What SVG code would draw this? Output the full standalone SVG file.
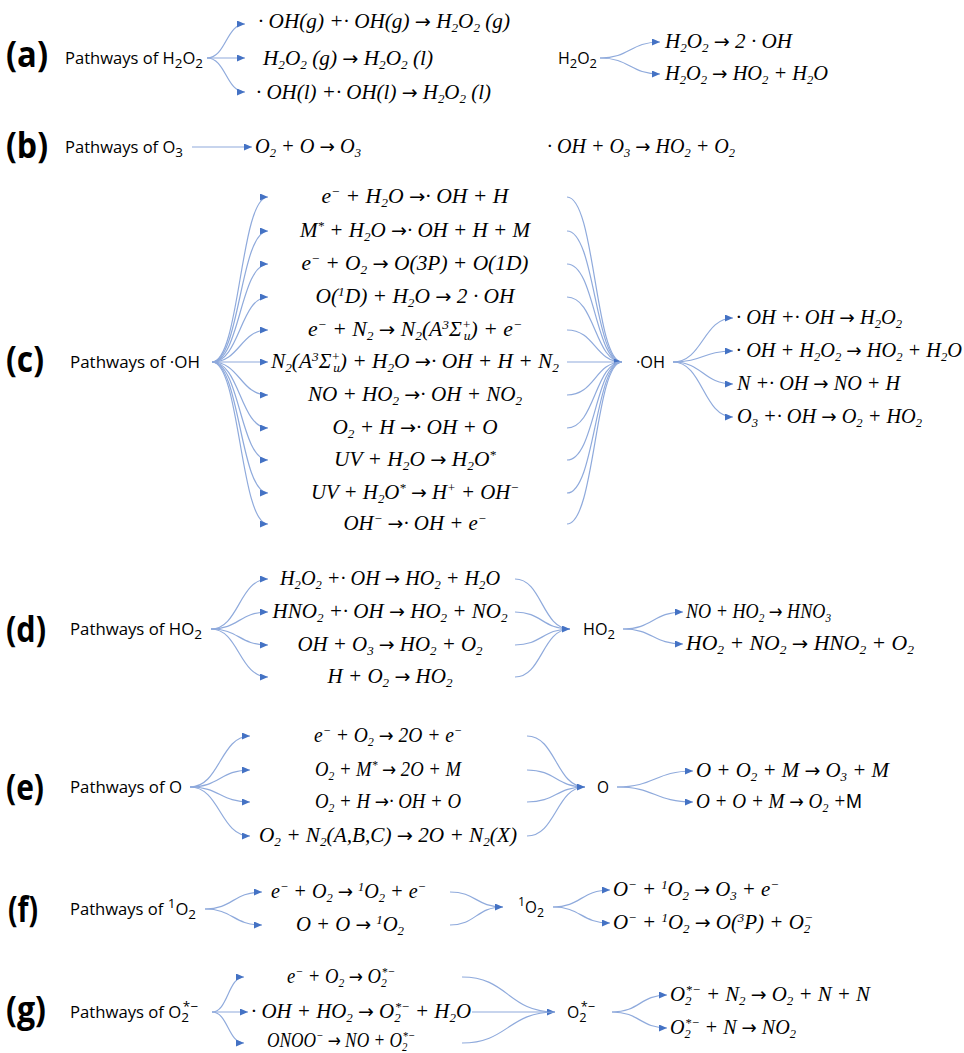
<svg xmlns="http://www.w3.org/2000/svg" width="964" height="1053" viewBox="0 0 964 1053">
<style>
.tag{font-family:"Open Sans","Liberation Sans",Arial,sans-serif;font-weight:bold;font-size:36px;fill:#000}
.lab{font-family:"Open Sans","Liberation Sans",Arial,sans-serif;font-size:16px;fill:#000}
.eq{font-family:"Liberation Serif","DejaVu Serif",serif;font-style:italic;font-size:21px;fill:#000}
.eqc{font-family:"Liberation Serif","DejaVu Serif",serif;font-style:italic;font-size:21px;fill:#000}
.s{font-size:13px;baseline-shift:-4px}
.p{font-size:13px;baseline-shift:7px}
.r{font-family:"DejaVu Sans",sans-serif;font-style:normal;font-size:19px}
.up{font-style:normal;font-family:"Liberation Sans",Arial,sans-serif}
.ln{fill:none;stroke:#8faadc;stroke-width:1.2}
.ar{marker-end:url(#ah)}
</style>
<defs>
<marker id="ah" viewBox="0 0 8 7" refX="8" refY="3.5" markerWidth="8" markerHeight="7" markerUnits="userSpaceOnUse" orient="auto"><path d="M0,0 L8,3.5 L0,7 z" fill="#4472c4"/></marker>
</defs>

<g id="connectors">
<path class="ln ar" d="M207,58 C226,58 226,24 245,24"/>
<path class="ln ar" d="M207,58 L245,58"/>
<path class="ln ar" d="M207,58 C226,58 226,92 245,92"/>
<path class="ln ar" d="M600,58 C630,58 630,42 660,42"/>
<path class="ln ar" d="M600,58 C630,58 630,74 660,74"/>
<path class="ln ar" d="M192,147 L252,147"/>
<path class="ln ar" d="M212,362 C240,362 240,197 268,197"/>
<path class="ln ar" d="M212,362 C240,362 240,231 268,231"/>
<path class="ln ar" d="M212,362 C240,362 240,264 268,264"/>
<path class="ln ar" d="M212,362 C240,362 240,297 268,297"/>
<path class="ln ar" d="M212,362 C240,362 240,330 268,330"/>
<path class="ln ar" d="M212,362 L268,362"/>
<path class="ln ar" d="M212,362 C240,362 240,395 268,395"/>
<path class="ln ar" d="M212,362 C240,362 240,428 268,428"/>
<path class="ln ar" d="M212,362 C240,362 240,460 268,460"/>
<path class="ln ar" d="M212,362 C240,362 240,493 268,493"/>
<path class="ln ar" d="M212,362 C240,362 240,524 268,524"/>
<path class="ln" d="M567,197 C595,197 595,362 622,362"/>
<path class="ln" d="M567,231 C595,231 595,362 622,362"/>
<path class="ln" d="M567,264 C595,264 595,362 622,362"/>
<path class="ln" d="M567,297 C595,297 595,362 622,362"/>
<path class="ln" d="M567,330 C595,330 595,362 622,362"/>
<path class="ln ar" d="M567,362 L622,362"/>
<path class="ln" d="M567,395 C595,395 595,362 622,362"/>
<path class="ln" d="M567,428 C595,428 595,362 622,362"/>
<path class="ln" d="M567,460 C595,460 595,362 622,362"/>
<path class="ln" d="M567,493 C595,493 595,362 622,362"/>
<path class="ln" d="M567,524 C595,524 595,362 622,362"/>
<path class="ln ar" d="M673,362 C703,362 703,318 733,318"/>
<path class="ln ar" d="M673,362 C703,362 703,351 733,351"/>
<path class="ln ar" d="M673,362 C703,362 703,384 733,384"/>
<path class="ln ar" d="M673,362 C703,362 703,417 733,417"/>
<path class="ln ar" d="M211,629 C239,629 239,579 268,579"/>
<path class="ln ar" d="M211,629 C239,629 239,612 268,612"/>
<path class="ln ar" d="M211,629 C239,629 239,645 268,645"/>
<path class="ln ar" d="M211,629 C239,629 239,677 268,677"/>
<path class="ln" d="M515,579 C542,579 542,629 570,629"/>
<path class="ln" d="M515,612 C542,612 542,629 570,629"/>
<path class="ln" d="M515,645 C542,645 542,629 570,629"/>
<path class="ln ar" d="M515,677 C542,677 542,629 570,629"/>
<path class="ln ar" d="M623,629 C653,629 653,612 683,612"/>
<path class="ln ar" d="M623,629 C653,629 653,644 683,644"/>
<path class="ln ar" d="M190,787 C220,787 220,736 250,736"/>
<path class="ln ar" d="M190,787 C220,787 220,770 250,770"/>
<path class="ln ar" d="M190,787 C220,787 220,802 250,802"/>
<path class="ln ar" d="M190,787 C220,787 220,836 250,836"/>
<path class="ln" d="M527,736 C556,736 556,787 585,787"/>
<path class="ln" d="M527,770 C556,770 556,787 585,787"/>
<path class="ln" d="M527,802 C556,802 556,787 585,787"/>
<path class="ln ar" d="M527,836 C556,836 556,787 585,787"/>
<path class="ln ar" d="M617,787 C655,787 655,771 693,771"/>
<path class="ln ar" d="M617,787 C655,787 655,802 693,802"/>
<path class="ln ar" d="M205,909 C233,909 233,892 262,892"/>
<path class="ln ar" d="M205,909 C233,909 233,925 262,925"/>
<path class="ln" d="M450,892 C476,892 476,907 503,907"/>
<path class="ln ar" d="M450,925 C476,925 476,907 503,907"/>
<path class="ln ar" d="M553,907 C581,907 581,890 610,890"/>
<path class="ln ar" d="M553,907 C581,907 581,923 610,923"/>
<path class="ln ar" d="M212,1012 C228,1012 228,977 244,977"/>
<path class="ln ar" d="M212,1012 L248,1012"/>
<path class="ln ar" d="M212,1012 C228,1012 228,1043 244,1043"/>
<path class="ln" d="M462,977 C508,977 508,1012 555,1012"/>
<path class="ln ar" d="M472,1012 L555,1012"/>
<path class="ln" d="M462,1043 C508,1043 508,1012 555,1012"/>
<path class="ln ar" d="M612,1012 C640,1012 640,995 667,995"/>
<path class="ln ar" d="M612,1012 C640,1012 640,1028 667,1028"/>
</g>

<g id="tag-a"><text class="tag" x="6" y="67" textLength="42" lengthAdjust="spacingAndGlyphs">(a)</text></g>
<g id="src-a"><text class="lab" x="65" y="64" textLength="138" lengthAdjust="spacingAndGlyphs">Pathways of H<tspan class="s">2</tspan>O<tspan class="s">2</tspan></text></g>
<g id="a-r1"><text class="eq" x="258" y="28" textLength="252" lengthAdjust="spacingAndGlyphs">· OH(g) +· OH(g) <tspan class="r">→</tspan> H<tspan class="s">2</tspan>O<tspan class="s">2</tspan> (g)</text></g>
<g id="a-r2"><text class="eq" x="263" y="65" textLength="170" lengthAdjust="spacingAndGlyphs">H<tspan class="s">2</tspan>O<tspan class="s">2</tspan> (g) <tspan class="r">→</tspan> H<tspan class="s">2</tspan>O<tspan class="s">2</tspan> (l)</text></g>
<g id="a-r3"><text class="eq" x="256" y="99" textLength="235" lengthAdjust="spacingAndGlyphs">· OH(l) +· OH(l) <tspan class="r">→</tspan> H<tspan class="s">2</tspan>O<tspan class="s">2</tspan> (l)</text></g>
<g id="node-h2o2"><text class="lab" x="558" y="64" textLength="39" lengthAdjust="spacingAndGlyphs">H<tspan class="s">2</tspan>O<tspan class="s">2</tspan></text></g>
<g id="a-o1"><text class="eq" x="665" y="48" textLength="127" lengthAdjust="spacingAndGlyphs">H<tspan class="s">2</tspan>O<tspan class="s">2</tspan> <tspan class="r">→</tspan>  2 · OH</text></g>
<g id="a-o2"><text class="eq" x="665" y="80" textLength="163" lengthAdjust="spacingAndGlyphs">H<tspan class="s">2</tspan>O<tspan class="s">2</tspan> <tspan class="r">→</tspan> HO<tspan class="s">2</tspan> + H<tspan class="s">2</tspan>O</text></g>

<g id="tag-b"><text class="tag" x="6" y="158" textLength="42" lengthAdjust="spacingAndGlyphs">(b)</text></g>
<g id="src-b"><text class="lab" x="65" y="153" textLength="118" lengthAdjust="spacingAndGlyphs">Pathways of O<tspan class="s">3</tspan></text></g>
<g id="b-r1"><text class="eq" x="255" y="153" textLength="106" lengthAdjust="spacingAndGlyphs">O<tspan class="s">2</tspan> + O <tspan class="r">→</tspan> O<tspan class="s">3</tspan></text></g>
<g id="b-r2"><text class="eq" x="547" y="153" textLength="188" lengthAdjust="spacingAndGlyphs">· OH + O<tspan class="s">3</tspan> <tspan class="r">→</tspan> HO<tspan class="s">2</tspan> + O<tspan class="s">2</tspan></text></g>

<g id="tag-c"><text class="tag" x="6" y="372" textLength="38" lengthAdjust="spacingAndGlyphs">(c)</text></g>
<g id="src-c"><text class="lab" x="70" y="368" textLength="130" lengthAdjust="spacingAndGlyphs">Pathways of ·OH</text></g>
<g id="c-r1"><text class="eq" x="415" y="203" text-anchor="middle" textLength="187" lengthAdjust="spacingAndGlyphs">e<tspan class="p">−</tspan> + H<tspan class="s">2</tspan>O <tspan class="r">→</tspan>· OH + H</text></g>
<g id="c-r2"><text class="eq" x="415" y="237" text-anchor="middle" textLength="230" lengthAdjust="spacingAndGlyphs">M<tspan class="p">*</tspan> + H<tspan class="s">2</tspan>O <tspan class="r">→</tspan>· OH + H + M</text></g>
<g id="c-r3"><text class="eq" x="415" y="270" text-anchor="middle" textLength="227" lengthAdjust="spacingAndGlyphs">e<tspan class="p">−</tspan> + O<tspan class="s">2</tspan> <tspan class="r">→</tspan> O(3P) + O(1D)</text></g>
<g id="c-r4"><text class="eq" x="415" y="303" text-anchor="middle" textLength="199" lengthAdjust="spacingAndGlyphs">O(<tspan class="p">1</tspan>D) + H<tspan class="s">2</tspan>O <tspan class="r">→</tspan> 2 · OH</text></g>
<g id="c-r5"><text class="eq" x="415" y="336" text-anchor="middle" textLength="214" lengthAdjust="spacingAndGlyphs">e<tspan class="p">−</tspan> + N<tspan class="s">2</tspan> <tspan class="r">→</tspan> N<tspan class="s">2</tspan>(A<tspan class="p">3</tspan>Σ<tspan class="p">+</tspan><tspan class="s" dx="-7">u</tspan>) + e<tspan class="p">−</tspan></text></g>
<g id="c-r6"><text class="eq" x="415" y="368" text-anchor="middle" textLength="288" lengthAdjust="spacingAndGlyphs">N<tspan class="s">2</tspan>(A<tspan class="p">3</tspan>Σ<tspan class="p">+</tspan><tspan class="s" dx="-7">u</tspan>) + H<tspan class="s">2</tspan>O <tspan class="r">→</tspan>· OH + H + N<tspan class="s">2</tspan></text></g>
<g id="c-r7"><text class="eq" x="415" y="401" text-anchor="middle" textLength="214" lengthAdjust="spacingAndGlyphs">NO + HO<tspan class="s">2</tspan> <tspan class="r">→</tspan>· OH + NO<tspan class="s">2</tspan></text></g>
<g id="c-r8"><text class="eq" x="415" y="434" text-anchor="middle" textLength="165" lengthAdjust="spacingAndGlyphs">O<tspan class="s">2</tspan> + H <tspan class="r">→</tspan>· OH + O</text></g>
<g id="c-r9"><text class="eq" x="415" y="466" text-anchor="middle" textLength="162" lengthAdjust="spacingAndGlyphs">UV + H<tspan class="s">2</tspan>O <tspan class="r">→</tspan> H<tspan class="s">2</tspan>O<tspan class="p">*</tspan></text></g>
<g id="c-r10"><text class="eq" x="415" y="499" text-anchor="middle" textLength="208" lengthAdjust="spacingAndGlyphs">UV + H<tspan class="s">2</tspan>O<tspan class="p">*</tspan> <tspan class="r">→</tspan> H<tspan class="p">+</tspan> + OH<tspan class="p">−</tspan></text></g>
<g id="c-r11"><text class="eq" x="415" y="530" text-anchor="middle" textLength="143" lengthAdjust="spacingAndGlyphs">OH<tspan class="p">−</tspan> <tspan class="r">→</tspan>· OH + e<tspan class="p">−</tspan></text></g>
<g id="node-oh"><text class="lab" x="636" y="368" textLength="29" lengthAdjust="spacingAndGlyphs">·OH</text></g>
<g id="c-o1"><text class="eq" x="736" y="324" textLength="166" lengthAdjust="spacingAndGlyphs">· OH +· OH <tspan class="r">→</tspan> H<tspan class="s">2</tspan>O<tspan class="s">2</tspan></text></g>
<g id="c-o2"><text class="eq" x="736" y="357" textLength="226" lengthAdjust="spacingAndGlyphs">· OH + H<tspan class="s">2</tspan>O<tspan class="s">2</tspan> <tspan class="r">→</tspan> HO<tspan class="s">2</tspan> + H<tspan class="s">2</tspan>O</text></g>
<g id="c-o3"><text class="eq" x="737" y="390" textLength="163" lengthAdjust="spacingAndGlyphs">N +· OH <tspan class="r">→</tspan> NO + H</text></g>
<g id="c-o4"><text class="eq" x="737" y="423" textLength="185" lengthAdjust="spacingAndGlyphs">O<tspan class="s">3</tspan> +· OH <tspan class="r">→</tspan> O<tspan class="s">2</tspan> + HO<tspan class="s">2</tspan></text></g>

<g id="tag-d"><text class="tag" x="6" y="642" textLength="40" lengthAdjust="spacingAndGlyphs">(d)</text></g>
<g id="src-d"><text class="lab" x="70" y="635" textLength="132" lengthAdjust="spacingAndGlyphs">Pathways of HO<tspan class="s">2</tspan></text></g>
<g id="d-r1"><text class="eqc" x="390" y="585" text-anchor="middle" textLength="220" lengthAdjust="spacingAndGlyphs">H<tspan class="s">2</tspan>O<tspan class="s">2</tspan> +· OH <tspan class="r">→</tspan> HO<tspan class="s">2</tspan> + H<tspan class="s">2</tspan>O</text></g>
<g id="d-r2"><text class="eqc" x="390" y="618" text-anchor="middle" textLength="235" lengthAdjust="spacingAndGlyphs">HNO<tspan class="s">2</tspan> +· OH <tspan class="r">→</tspan> HO<tspan class="s">2</tspan> + NO<tspan class="s">2</tspan></text></g>
<g id="d-r3"><text class="eqc" x="390" y="651" text-anchor="middle" textLength="185" lengthAdjust="spacingAndGlyphs">OH + O<tspan class="s">3</tspan> <tspan class="r">→</tspan> HO<tspan class="s">2</tspan> + O<tspan class="s">2</tspan></text></g>
<g id="d-r4"><text class="eqc" x="390" y="683" text-anchor="middle" textLength="125" lengthAdjust="spacingAndGlyphs">H + O<tspan class="s">2</tspan> <tspan class="r">→</tspan> HO<tspan class="s">2</tspan></text></g>
<g id="node-ho2"><text class="lab" x="583" y="635" textLength="32" lengthAdjust="spacingAndGlyphs">HO<tspan class="s">2</tspan></text></g>
<g id="d-o1"><text class="eqc" x="686" y="618" textLength="145" lengthAdjust="spacingAndGlyphs">NO + HO<tspan class="s">2</tspan> <tspan class="r">→</tspan> HNO<tspan class="s">3</tspan></text></g>
<g id="d-o2"><text class="eqc" x="686" y="650" textLength="228" lengthAdjust="spacingAndGlyphs">HO<tspan class="s">2</tspan> + NO<tspan class="s">2</tspan> <tspan class="r">→</tspan> HNO<tspan class="s">2</tspan> + O<tspan class="s">2</tspan></text></g>

<g id="tag-e"><text class="tag" x="6" y="800" textLength="38" lengthAdjust="spacingAndGlyphs">(e)</text></g>
<g id="src-e"><text class="lab" x="70" y="793" textLength="112" lengthAdjust="spacingAndGlyphs">Pathways of O</text></g>
<g id="e-r1"><text class="eqc" x="388" y="742" text-anchor="middle" textLength="148" lengthAdjust="spacingAndGlyphs">e<tspan class="p">−</tspan> + O<tspan class="s">2</tspan> <tspan class="r">→</tspan> 2O + e<tspan class="p">−</tspan></text></g>
<g id="e-r2"><text class="eqc" x="388" y="776" text-anchor="middle" textLength="146" lengthAdjust="spacingAndGlyphs">O<tspan class="s">2</tspan> + M<tspan class="p">*</tspan> <tspan class="r">→</tspan> 2O + M</text></g>
<g id="e-r3"><text class="eqc" x="388" y="808" text-anchor="middle" textLength="146" lengthAdjust="spacingAndGlyphs">O<tspan class="s">2</tspan> + H <tspan class="r">→</tspan>· OH + O</text></g>
<g id="e-r4"><text class="eqc" x="388" y="842" text-anchor="middle" textLength="258" lengthAdjust="spacingAndGlyphs">O<tspan class="s">2</tspan> + N<tspan class="s">2</tspan>(A,B,C) <tspan class="r">→</tspan> 2O + N<tspan class="s">2</tspan>(X)</text></g>
<g id="node-o"><text class="lab" x="597" y="793" textLength="12" lengthAdjust="spacingAndGlyphs">O</text></g>
<g id="e-o1"><text class="eqc" x="696" y="777" textLength="193" lengthAdjust="spacingAndGlyphs">O + O<tspan class="s">2</tspan> + M <tspan class="r">→</tspan> O<tspan class="s">3</tspan> + M</text></g>
<g id="e-o2"><text class="eqc" x="696" y="808" textLength="166" lengthAdjust="spacingAndGlyphs">O + O + M <tspan class="r">→</tspan> O<tspan class="s">2</tspan> +<tspan class="up">M</tspan></text></g>

<g id="tag-f"><text class="tag" x="8" y="922" textLength="30" lengthAdjust="spacingAndGlyphs">(f)</text></g>
<g id="src-f"><text class="lab" x="70" y="915" textLength="126" lengthAdjust="spacingAndGlyphs">Pathways of <tspan class="p">1</tspan>O<tspan class="s">2</tspan></text></g>
<g id="f-r1"><text class="eqc" x="271" y="898" textLength="155" lengthAdjust="spacingAndGlyphs">e<tspan class="p">−</tspan> + O<tspan class="s">2</tspan> <tspan class="r">→</tspan> <tspan class="p">1</tspan>O<tspan class="s">2</tspan> + e<tspan class="p">−</tspan></text></g>
<g id="f-r2"><text class="eqc" x="350" y="931" text-anchor="middle" textLength="108" lengthAdjust="spacingAndGlyphs">O + O <tspan class="r">→</tspan> <tspan class="p">1</tspan>O<tspan class="s">2</tspan></text></g>
<g id="node-1o2"><text class="lab" x="518" y="913" textLength="26" lengthAdjust="spacingAndGlyphs"><tspan class="p">1</tspan>O<tspan class="s">2</tspan></text></g>
<g id="f-o1"><text class="eqc" x="613" y="896" textLength="166" lengthAdjust="spacingAndGlyphs">O<tspan class="p">−</tspan> + <tspan class="p">1</tspan>O<tspan class="s">2</tspan> <tspan class="r">→</tspan> O<tspan class="s">3</tspan> + e<tspan class="p">−</tspan></text></g>
<g id="f-o2"><text class="eqc" x="613" y="929" textLength="200" lengthAdjust="spacingAndGlyphs">O<tspan class="p">−</tspan> + <tspan class="p">1</tspan>O<tspan class="s">2</tspan> <tspan class="r">→</tspan> O(<tspan class="p">3</tspan>P) + O<tspan class="s">2</tspan><tspan class="p" dx="-6">−</tspan></text></g>

<g id="tag-g"><text class="tag" x="6" y="1022" textLength="40" lengthAdjust="spacingAndGlyphs">(g)</text></g>
<g id="src-g"><text class="lab" x="70" y="1018" textLength="128" lengthAdjust="spacingAndGlyphs">Pathways of O<tspan class="s">2</tspan><tspan class="p" dx="-6">*−</tspan></text></g>
<g id="g-r1"><text class="eqc" x="341" y="983" text-anchor="middle" textLength="108" lengthAdjust="spacingAndGlyphs">e<tspan class="p">−</tspan> + O<tspan class="s">2</tspan> <tspan class="r">→</tspan> O<tspan class="s">2</tspan><tspan class="p" dx="-6">*−</tspan></text></g>
<g id="g-r2"><text class="eqc" x="251" y="1018" textLength="220" lengthAdjust="spacingAndGlyphs">· OH + HO<tspan class="s">2</tspan> <tspan class="r">→</tspan> O<tspan class="s">2</tspan><tspan class="p" dx="-6">*−</tspan> + H<tspan class="s">2</tspan>O</text></g>
<g id="g-r3"><text class="eqc" x="341" y="1047" text-anchor="middle" textLength="148" lengthAdjust="spacingAndGlyphs">ONOO<tspan class="p">−</tspan> <tspan class="r">→</tspan> NO + O<tspan class="s">2</tspan><tspan class="p" dx="-6">*−</tspan></text></g>
<g id="node-o2"><text class="lab" x="567" y="1018" textLength="28" lengthAdjust="spacingAndGlyphs">O<tspan class="s">2</tspan><tspan class="p" dx="-6">*−</tspan></text></g>
<g id="g-o1"><text class="eqc" x="670" y="1001" textLength="200" lengthAdjust="spacingAndGlyphs">O<tspan class="s">2</tspan><tspan class="p" dx="-6">*−</tspan> + N<tspan class="s">2</tspan> <tspan class="r">→</tspan> O<tspan class="s">2</tspan> + N + N</text></g>
<g id="g-o2"><text class="eqc" x="670" y="1034" textLength="126" lengthAdjust="spacingAndGlyphs">O<tspan class="s">2</tspan><tspan class="p" dx="-6">*−</tspan> + N <tspan class="r">→</tspan> NO<tspan class="s">2</tspan></text></g>
</svg>
